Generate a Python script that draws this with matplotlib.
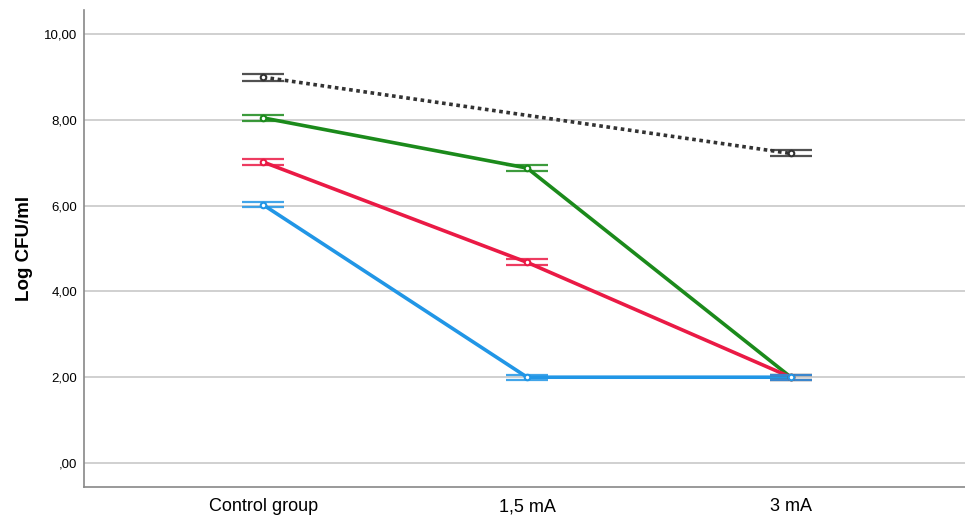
import matplotlib.pyplot as plt
import numpy as np

plt.rcParams['font.family'] = ['Liberation Sans', 'DejaVu Sans']

groups = ["Control group", "1,5 mA", "3 mA"]
x = np.arange(len(groups))

# mean log CFU/ml per strain and current; nan = not measured
series_names = ["dotted", "green", "red", "blue"]
means = {
    "dotted": [9.00, np.nan, 7.22],
    "green": [8.05, 6.88, 2.00],
    "red": [7.02, 4.68, 2.00],
    "blue": [6.02, 2.00, 2.00],
}
errs = {
    "dotted": [0.08, np.nan, 0.07],
    "green": [0.07, 0.06, 0.06],
    "red": [0.07, 0.07, 0.06],
    "blue": [0.06, 0.06, 0.06],
}
colors = {"dotted": "#333333", "green": "#1b8a1b", "red": "#ea1a45", "blue": "#2196e6"}
styles = {"dotted": (0, (1, 1)), "green": "-", "red": "-", "blue": "-"}

fig = plt.figure(figsize=(9.65, 5.18), dpi=100)
ax = fig.add_axes([0.087, 0.06, 0.913, 0.92])

for name in series_names:
    m = np.array(means[name])
    e = np.array(errs[name])
    ok = ~np.isnan(m)
    ax.plot(x[ok], m[ok], color=colors[name], linestyle=styles[name], lw=2.6, zorder=3)
    ax.errorbar(x[ok], m[ok], yerr=e[ok], fmt='none', ecolor=colors[name],
                elinewidth=1.2, capsize=15, capthick=1.6, alpha=0.85, zorder=4)
    ax.plot(x[ok], m[ok], 'o', ms=4, mfc='white', mec=colors[name], mew=1.5, zorder=5)

ax.set_xlim(-0.68, 2.66)
ax.set_ylim(-0.56, 10.56)
ax.set_yticks(np.arange(0, 11, 2))
ax.set_yticklabels([",00", "2,00", "4,00", "6,00", "8,00", "10,00"], fontsize=9.5)
ax.set_xticks(x)
ax.set_xticklabels(groups, fontsize=13)
ax.set_ylabel("Log CFU/ml", fontsize=13.5, fontweight='bold')
ax.yaxis.set_label_coords(-0.058, 0.5)

ax.grid(axis='y', color='#c8c8c8', lw=1.2, zorder=0)
ax.tick_params(axis='y', length=0, pad=5)
ax.tick_params(axis='x', length=0, pad=8)
for s in ['top', 'right']:
    ax.spines[s].set_visible(False)
for s in ['left', 'bottom']:
    ax.spines[s].set_color('#888888')
    ax.spines[s].set_linewidth(1.2)

fig.savefig("out.png", dpi=100)
